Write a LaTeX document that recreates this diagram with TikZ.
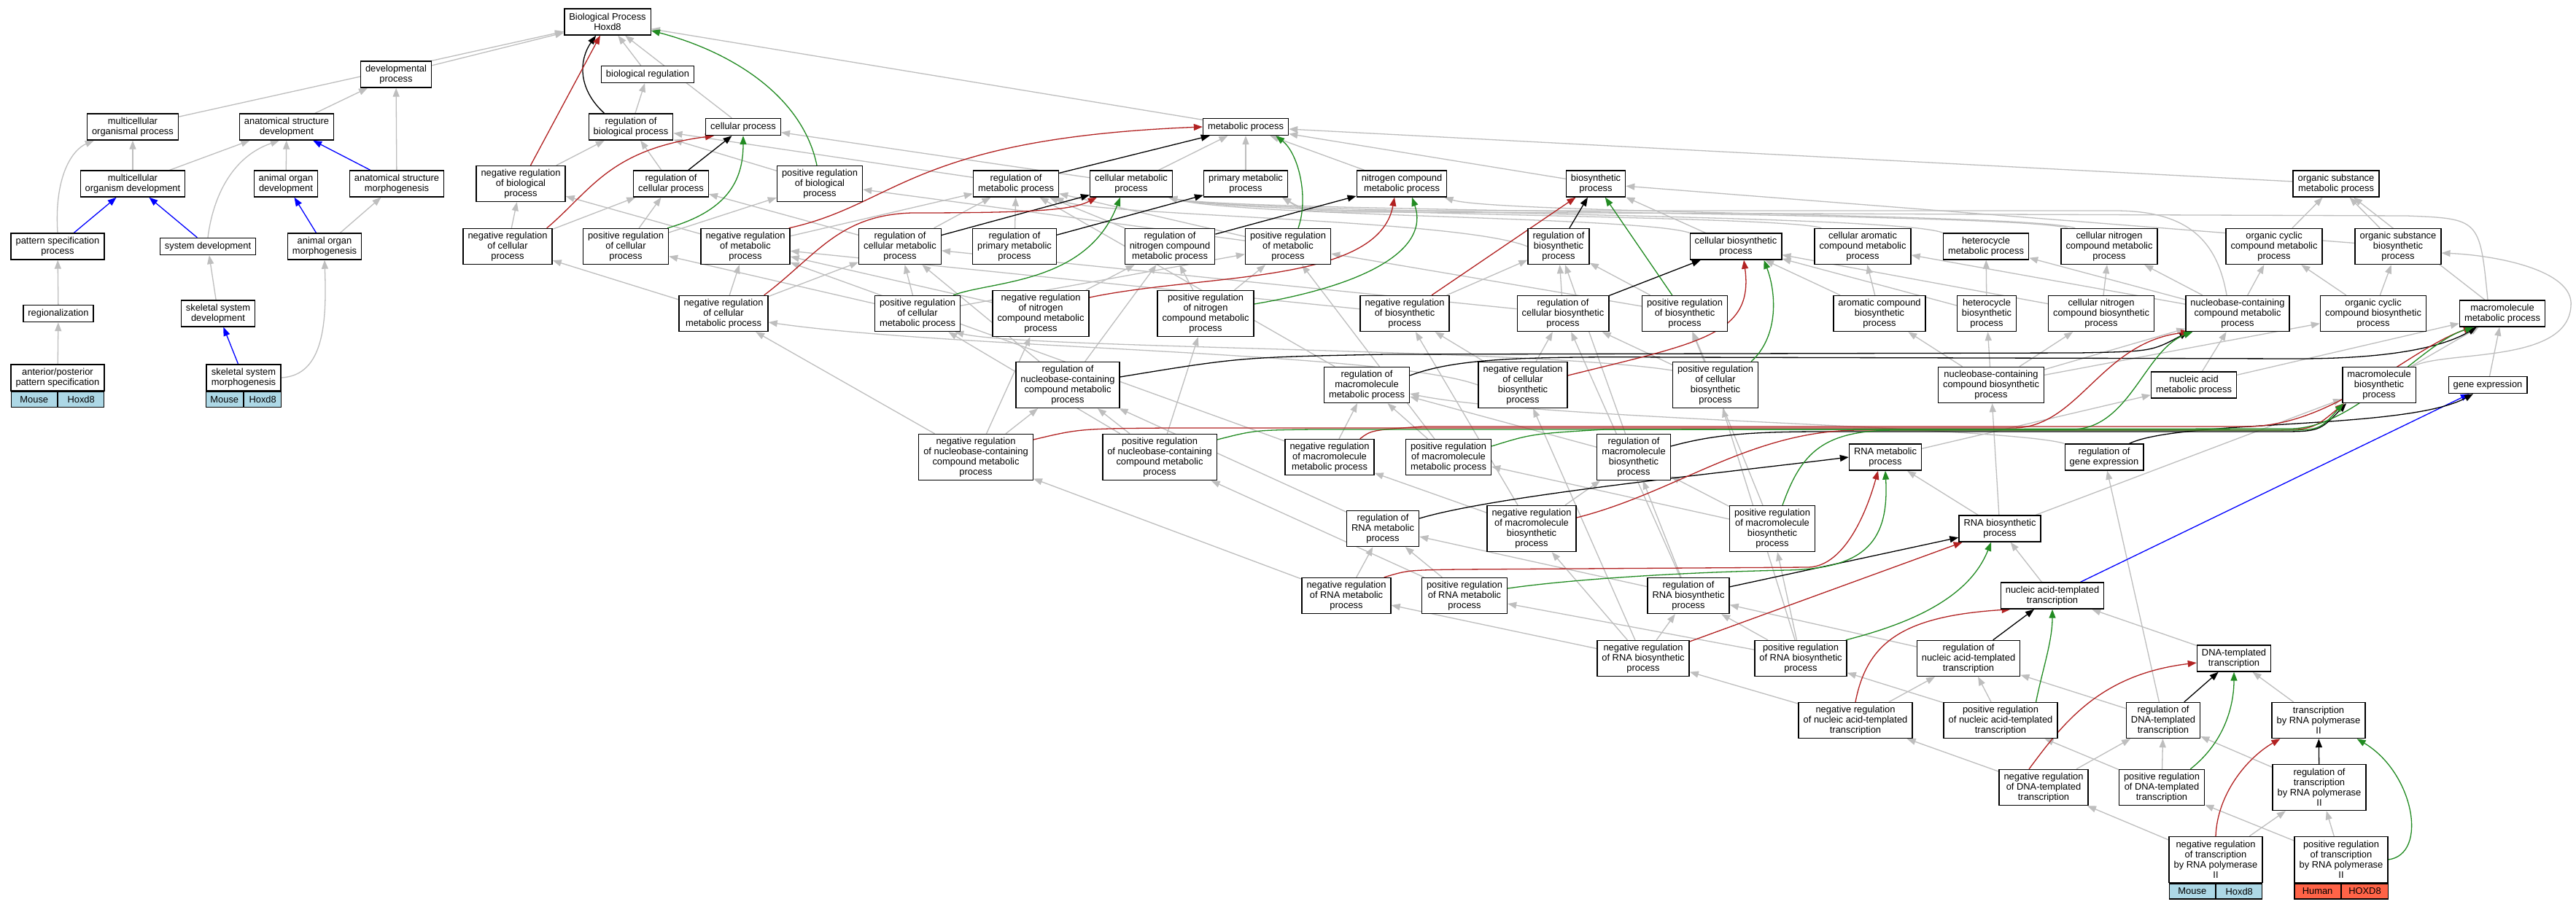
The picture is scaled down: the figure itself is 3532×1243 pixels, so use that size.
\documentclass[tikz,border=0pt]{standalone}
\usepackage{fontspec}
\setmainfont{Liberation Sans}
\usetikzlibrary{arrows.meta,backgrounds}
\definecolor{isagray}{RGB}{190,190,190}
\definecolor{negred}{RGB}{178,34,34}
\definecolor{posgreen}{RGB}{34,139,34}
\definecolor{partblue}{RGB}{0,0,255}
\definecolor{mouseblue}{RGB}{173,216,230}
\definecolor{humanred}{RGB}{255,99,71}
\begin{document}
\begin{tikzpicture}[x=1pt,y=-1pt,
  every node/.style={font=\fontsize{12.9}{14}\selectfont},
  box/.style={draw=black, line width=1.4pt, fill=white, align=center, inner xsep=6.5pt, inner ysep=1pt},
  L1/.style={box, minimum height=23pt},
  L2/.style={box, minimum height=36pt},
  L3/.style={box, minimum height=49pt},
  L4/.style={box, minimum height=63pt},
  cell/.style={draw=black, line width=1.4pt, minimum height=21pt, inner sep=1pt},
  link/.style={line width=1.3pt, -{Triangle[length=12pt,width=9pt]}},
  isa/.style={link, draw=isagray},
  partof/.style={link, draw=partblue},
  regl/.style={link, draw=black},
  negl/.style={link, draw=negred},
  posl/.style={link, draw=posgreen}
]
% ---------------- nodes ----------------
\node[L2] (BP) at (833,30) {Biological Process\\Hoxd8};
\node[L2] (dev) at (543,102) {developmental\\process};
\node[L1] (breg) at (888,102) {biological regulation};
\node[L2] (mop) at (182,174) {multicellular\\organismal process};
\node[L2] (asd) at (393,174) {anatomical structure\\development};
\node[L2] (rbp) at (865,174) {regulation of\\biological process};
\node[L1] (cp) at (1019,174) {cellular process};
\node[L1] (mp) at (1708,174) {metabolic process};
\node[L2] (mod) at (182,252) {multicellular\\organism development};
\node[L2] (aod) at (392,252) {animal organ\\development};
\node[L2] (asm) at (544,252) {anatomical structure\\morphogenesis};
\node[L3] (nrbp) at (714,252) {negative regulation\\of biological\\process};
\node[L2] (rcp) at (920,252) {regulation of\\cellular process};
\node[L3] (prbp) at (1124,252) {positive regulation\\of biological\\process};
\node[L2] (rmp) at (1393,252) {regulation of\\metabolic process};
\node[L2] (cmp) at (1551,252) {cellular metabolic\\process};
\node[L2] (pmp) at (1708,252) {primary metabolic\\process};
\node[L2] (ncmp) at (1922,252) {nitrogen compound\\metabolic process};
\node[L2] (bsp) at (2188,252) {biosynthetic\\process};
\node[L2] (osmp) at (3203,252) {organic substance\\metabolic process};
\node[L2] (psp) at (79,338) {pattern specification\\process};
\node[L1] (sd) at (285,338) {system development};
\node[L2] (aom) at (445,338) {animal organ\\morphogenesis};
\node[L3] (nrcp) at (696,338) {negative regulation\\of cellular\\process};
\node[L3] (prcp) at (858,338) {positive regulation\\of cellular\\process};
\node[L3] (nrmp) at (1022,338) {negative regulation\\of metabolic\\process};
\node[L3] (rcmp) at (1234,338) {regulation of\\cellular metabolic\\process};
\node[L3] (rpmp) at (1391,338) {regulation of\\primary metabolic\\process};
\node[L3] (rncmp) at (1604,338) {regulation of\\nitrogen compound\\metabolic process};
\node[L3] (prmp) at (1766,338) {positive regulation\\of metabolic\\process};
\node[L3] (rbsp) at (2137,338) {regulation of\\biosynthetic\\process};
\node[L2] (cbsp) at (2380,338) {cellular biosynthetic\\process};
\node[L3] (cacmp) at (2554,338) {cellular aromatic\\compound metabolic\\process};
\node[L2] (hmp) at (2723,338) {heterocycle\\metabolic process};
\node[L3] (cncmp) at (2892,338) {cellular nitrogen\\compound metabolic\\process};
\node[L3] (occmp) at (3118,338) {organic cyclic\\compound metabolic\\process};
\node[L3] (osbp) at (3288,338) {organic substance\\biosynthetic\\process};
\node[L1] (reg) at (80,430) {regionalization};
\node[L2] (ssd) at (299,430) {skeletal system\\development};
\node[L3] (nrcmp) at (992,430) {negative regulation\\of cellular\\metabolic process};
\node[L3] (prcmp) at (1258,430) {positive regulation\\of cellular\\metabolic process};
\node[L4] (nrncmp) at (1427,430) {negative regulation\\of nitrogen\\compound metabolic\\process};
\node[L4] (prncmp) at (1653,430) {positive regulation\\of nitrogen\\compound metabolic\\process};
\node[L3] (nrbsp) at (1926,430) {negative regulation\\of biosynthetic\\process};
\node[L3] (rcbsp) at (2143,430) {regulation of\\cellular biosynthetic\\process};
\node[L3] (prbsp) at (2310,430) {positive regulation\\of biosynthetic\\process};
\node[L3] (acbp) at (2577,430) {aromatic compound\\biosynthetic\\process};
\node[L3] (hbp) at (2724,430) {heterocycle\\biosynthetic\\process};
\node[L3] (cncbp) at (2881,430) {cellular nitrogen\\compound biosynthetic\\process};
\node[L3] (nbcmp) at (3068,430) {nucleobase-containing\\compound metabolic\\process};
\node[L3] (occbp) at (3254,430) {organic cyclic\\compound biosynthetic\\process};
\node[L2] (mmp) at (3431,430) {macromolecule\\metabolic process};
% records
\node[L2, minimum width=126pt] (ap) at (79,518) {anterior/posterior\\pattern specification};
\node[cell, fill=mouseblue, minimum width=63pt, anchor=north east] (apM) at (ap.south) {Mouse};
\node[cell, fill=mouseblue, minimum width=63pt, anchor=north west] (apH) at (ap.south) {Hoxd8};
\node[L2, minimum width=102pt] (ssm) at (334,518) {skeletal system\\morphogenesis};
\node[cell, fill=mouseblue, minimum width=51pt, anchor=north east] (ssmM) at (ssm.south) {Mouse};
\node[cell, fill=mouseblue, minimum width=51pt, anchor=north west] (ssmH) at (ssm.south) {Hoxd8};
\node[L4] (rnbcmp) at (1464,528) {regulation of\\nucleobase-containing\\compound metabolic\\process};
\node[L3] (rmmp) at (1874,528) {regulation of\\macromolecule\\metabolic process};
\node[L4] (nrcbsp) at (2088,528) {negative regulation\\of cellular\\biosynthetic\\process};
\node[L4] (prcbsp) at (2352,528) {positive regulation\\of cellular\\biosynthetic\\process};
\node[L3] (nbcbp) at (2730,528) {nucleobase-containing\\compound biosynthetic\\process};
\node[L2] (namp) at (3008,528) {nucleic acid\\metabolic process};
\node[L3] (mbp) at (3262,528) {macromolecule\\biosynthetic\\process};
\node[L1] (ge) at (3411,528) {gene expression};
\node[L4] (nrnbc) at (1338,627) {negative regulation\\of nucleobase-containing\\compound metabolic\\process};
\node[L4] (prnbc) at (1590,627) {positive regulation\\of nucleobase-containing\\compound metabolic\\process};
\node[L3] (nrmmp) at (1823,627) {negative regulation\\of macromolecule\\metabolic process};
\node[L3] (prmmp) at (1986,627) {positive regulation\\of macromolecule\\metabolic process};
\node[L4] (rmbp) at (2240,627) {regulation of\\macromolecule\\biosynthetic\\process};
\node[L2] (rnamp) at (2585,627) {RNA metabolic\\process};
\node[L2] (rge) at (2885,627) {regulation of\\gene expression};
\node[L3] (rrnamp) at (1896,725) {regulation of\\RNA metabolic\\process};
\node[L4] (nrmbp) at (2100,725) {negative regulation\\of macromolecule\\biosynthetic\\process};
\node[L4] (prmbp) at (2430,725) {positive regulation\\of macromolecule\\biosynthetic\\process};
\node[L2] (rnabp) at (2742,725) {RNA biosynthetic\\process};
\node[L3] (nrrnamp) at (1846,817) {negative regulation\\of RNA metabolic\\process};
\node[L3] (prrnamp) at (2008,817) {positive regulation\\of RNA metabolic\\process};
\node[L3] (rrnabp) at (2315,817) {regulation of\\RNA biosynthetic\\process};
\node[L2] (natt) at (2814,817) {nucleic acid-templated\\transcription};
\node[L3] (nrrnabp) at (2253,903) {negative regulation\\of RNA biosynthetic\\process};
\node[L3] (prrnabp) at (2469,903) {positive regulation\\of RNA biosynthetic\\process};
\node[L3] (rnatt) at (2699,903) {regulation of\\nucleic acid-templated\\transcription};
\node[L2] (dtt) at (3063,903) {DNA-templated\\transcription};
\node[L3] (nrnatt) at (2544,988) {negative regulation\\of nucleic acid-templated\\transcription};
\node[L3] (prnatt) at (2743,988) {positive regulation\\of nucleic acid-templated\\transcription};
\node[L3] (rdtt) at (2966,988) {regulation of\\DNA-templated\\transcription};
\node[L3] (trp2) at (3179,988) {transcription\\by RNA polymerase\\II};
\node[L3] (nrdtt) at (2802,1080) {negative regulation\\of DNA-templated\\transcription};
\node[L3] (prdtt) at (2964,1080) {positive regulation\\of DNA-templated\\transcription};
\node[L4] (rtrp2) at (3180,1080) {regulation of\\transcription\\by RNA polymerase\\II};
\node[L4, minimum width=126pt] (nrtrp2) at (3038,1179) {negative regulation\\of transcription\\by RNA polymerase\\II};
\node[cell, fill=mouseblue, minimum width=63pt, anchor=north east] (nrtrp2M) at (nrtrp2.south) {Mouse};
\node[cell, fill=mouseblue, minimum width=63pt, anchor=north west] (nrtrp2H) at (nrtrp2.south) {Hoxd8};
\node[L4, minimum width=127pt] (prtrp2) at (3210,1179) {positive regulation\\of transcription\\by RNA polymerase\\II};
\node[cell, fill=humanred, minimum width=63.5pt, anchor=north east] (prtrp2M) at (prtrp2.south) {Human};
\node[cell, fill=humanred, minimum width=63.5pt, anchor=north west] (prtrp2H) at (prtrp2.south) {HOXD8};
% ---------------- edges ----------------
\begin{pgfonlayer}{background}
\fill[white] (0,0) rectangle (3532,1243);
\foreach \a/\b in {dev/BP, mop/BP, breg/BP, cp/BP, mp/BP,
  asd/dev, asm/dev, mod/mop, mod/asd, aod/asd, aom/asm,
  reg/psp, ssd/sd, ap/reg,
  rbp/breg, nrbp/rbp, rcp/rbp, prbp/rbp, rmp/rbp,
  cmp/cp, cmp/mp, pmp/mp, ncmp/mp, bsp/mp, osmp/mp,
  nrcp/nrbp, nrcp/rcp, prcp/prbp, prcp/rcp, nrmp/nrbp, nrmp/rmp, rcmp/rcp, rcmp/rmp,
  rpmp/rmp, rncmp/rmp, prmp/prbp, prmp/rmp,
  cbsp/bsp, occmp/osmp, osbp/osmp, osbp/bsp, mmp/osmp,
  nrcmp/nrcp, nrcmp/nrmp, nrcmp/rcmp, prcmp/prcp, prcmp/prmp, prcmp/rcmp,
  nrncmp/nrmp, nrncmp/rncmp, prncmp/prmp, prncmp/rncmp, nrbsp/nrmp, nrbsp/rbsp,
  rcbsp/rcmp, rcbsp/rbsp, prbsp/prmp, prbsp/rbsp,
  acbp/cacmp, acbp/cbsp, hbp/hmp, hbp/cbsp, cncbp/cncmp, cncbp/cbsp,
  nbcmp/cacmp, nbcmp/hmp, nbcmp/cncmp, nbcmp/occmp, occbp/occmp, occbp/osbp,
  rnbcmp/rcmp, rnbcmp/rncmp, rmmp/rmp,
  nrcbsp/nrbsp, nrcbsp/rcbsp, prcbsp/prbsp, prcbsp/rcbsp,
  nbcbp/acbp, nbcbp/hbp, nbcbp/cncbp, nbcbp/nbcmp, nbcbp/occbp, namp/nbcmp, namp/mmp,
  mbp/mmp, ge/mmp,
  nrnbc/nrcmp, nrnbc/rnbcmp, nrnbc/nrncmp, prnbc/prcmp, prnbc/rnbcmp, prnbc/prncmp,
  nrmmp/nrmp, nrmmp/rmmp, prmmp/prmp, prmmp/rmmp, rmbp/rmmp, rmbp/rbsp, rnamp/namp,
  rrnamp/rnbcmp, nrmbp/nrmmp, nrmbp/nrbsp, nrmbp/rmbp, prmbp/prmmp, prmbp/prbsp, prmbp/rmbp,
  rnabp/rnamp, rnabp/nbcbp, rnabp/mbp,
  nrrnamp/nrnbc, nrrnamp/rrnamp, prrnamp/prnbc, prrnamp/rrnamp, rrnabp/rrnamp, rrnabp/rmbp,
  rrnabp/rcbsp, natt/rnabp,
  nrrnabp/nrrnamp, nrrnabp/rrnabp, nrrnabp/nrmbp, nrrnabp/nrcbsp,
  prrnabp/prrnamp, prrnabp/rrnabp, prrnabp/prmbp, prrnabp/prcbsp,
  rnatt/rrnabp, dtt/natt, nrnatt/nrrnabp, nrnatt/rnatt, prnatt/prrnabp, prnatt/rnatt,
  rdtt/rnatt, rdtt/rge, trp2/dtt,
  nrdtt/nrnatt, nrdtt/rdtt, prdtt/prnatt, prdtt/rdtt, rtrp2/rdtt,
  nrtrp2/nrdtt, nrtrp2/rtrp2, prtrp2/prdtt, prtrp2/rtrp2}
  \draw[isa] (\a) -- (\b);
\draw[isa] (psp.north) .. controls (74,240) and (100,205) .. ([xshift=10pt]mop.south west);
\draw[isa] (sd.north) .. controls (292,270) and (318,215) .. ([xshift=-10pt]asd.south);
\draw[isa] (ssm.east) .. controls (445,515) and (448,440) .. (aom.south);
% long is_a links routed through the gaps between rows
\draw[isa] (cbsp.north west) .. controls (2250,297) and (1700,297) .. ([xshift=-6pt]cmp.south east);
\draw[isa] ([xshift=10pt]cacmp.north west) .. controls (2450,295) and (1700,295) .. ([xshift=-6pt]cmp.south east);
\draw[isa] (hmp.north west) .. controls (2600,293) and (1700,293) .. ([xshift=-6pt]cmp.south east);
\draw[isa] ([xshift=10pt]cncmp.north west) .. controls (2760,291) and (1700,291) .. ([xshift=-6pt]cmp.south east);
\draw[isa] ([xshift=20pt]cncmp.north west) .. controls (2780,293) and (2050,293) .. ([xshift=-4pt]ncmp.south east);
\draw[isa] ([xshift=-15pt]nbcmp.north) .. controls (3040,330) and (3000,289) .. (2900,289) -- (1900,289) .. controls (1790,289) .. ([xshift=-8pt]pmp.south east);
\draw[isa] ([xshift=-20pt]mmp.north) .. controls (3400,300) .. (3300,296) -- (1900,291) .. controls (1790,291) .. ([xshift=-8pt]pmp.south east);
\draw[isa] (rbsp.west) .. controls (2000,300) and (1500,296) .. ([xshift=-6pt]rmp.south east);
\draw[isa] ([xshift=-5pt]mbp.north east) .. controls (3350,480) and (3520,500) .. (3525,420) .. controls (3530,370) and (3420,350) .. ([yshift=-9pt]osbp.east);
\draw[isa] (rge.north west) .. controls (2750,585) and (2100,575) .. ([yshift=-12pt]rmmp.east);
\draw[isa] (nrcbsp.west) .. controls (1900,482) and (1300,478) .. ([yshift=-12pt]nrcmp.east);
\draw[isa] ([yshift=20pt]prcbsp.west) .. controls (2100,478) and (1400,478) .. ([xshift=-8pt]prcmp.south east);
% part_of
\foreach \a/\b in {asm/asd, psp/mod, sd/mod, aom/aod, ssm/ssd, natt/ge}
  \draw[partof] (\a) -- (\b);
% regulates
\foreach \a/\b in {rcp/cp, rmp/mp, rcmp/cmp, rpmp/pmp, rncmp/ncmp, rbsp/bsp, rcbsp/cbsp,
  rrnabp/rnabp, rnatt/natt, rdtt/dtt, rtrp2/trp2}
  \draw[regl] (\a) -- (\b);
\draw[regl] ([xshift=22pt]rbp.north west) .. controls (790,120) and (795,80) .. ([xshift=44pt]BP.south west);
\draw[regl] ([yshift=11pt]rnbcmp.east) .. controls (1700,490) .. (1900,486) -- (2850,484) .. controls (2950,482) .. ([xshift=4pt]nbcmp.south west);
\draw[regl] ([yshift=13pt]rmmp.east) .. controls (2000,490) and (2100,489) .. (2300,490) -- (3150,492) .. controls (3300,492) and (3360,470) .. ([xshift=24pt]mmp.south west);
\draw[regl] ([yshift=15pt]rmbp.east) .. controls (2350,596) and (2400,592) .. (2500,592) -- (3120,592) .. controls (3180,592) .. ([xshift=6pt]mbp.south west);
\draw[regl] ([xshift=-20pt]rge.north east) .. controls (2990,575) and (3300,590) .. ([xshift=-20pt]ge.south);
\draw[regl] ([yshift=14pt]rrnamp.east) .. controls (2050,680) and (2350,650) .. (rnamp.west);
% negatively regulates
\foreach \a/\b in {nrbp/BP, nrbsp/bsp, nrrnabp/rnabp}
  \draw[negl] (\a) -- (\b);
\draw[negl] ([xshift=-8pt]nrcp.north east) .. controls (810,262) and (835,205) .. ([xshift=12pt]cp.south west);
\draw[negl] ([xshift=-2pt]nrmp.north east) .. controls (1230,280) and (1250,190) .. (mp.west);
\draw[negl] ([xshift=-6pt]nrcmp.north east) .. controls (1120,350) and (1150,295) .. (1250,292) .. controls (1420,292) and (1470,288) .. ([xshift=10pt]cmp.south west);
\draw[negl] ([yshift=22pt]nrncmp.east) .. controls (1650,375) and (1890,390) .. ([xshift=-10pt]ncmp.south);
\draw[negl] ([yshift=13pt]nrcbsp.east) .. controls (2330,470) and (2405,460) .. ([xshift=11pt]cbsp.south);
\draw[negl] ([yshift=24pt]nrnbc.east) .. controls (1480,588) .. (1600,587) -- (2760,587) .. controls (2850,587) and (2880,470) .. ([xshift=6pt]nbcmp.south west);
\draw[negl] ([xshift=-20pt]nrmmp.north east) .. controls (1880,590) .. (1950,585) -- (3080,585) .. controls (3200,585) and (3300,480) .. ([xshift=18pt]mmp.south west);
\draw[negl] ([yshift=15pt]nrmbp.east) .. controls (2300,675) and (2400,590) .. (2550,590) -- (3100,590) .. controls (3170,590) .. ([xshift=3pt]mbp.south west);
\draw[negl] ([xshift=-10pt]nrrnamp.north east) .. controls (1930,782) .. (2000,781) -- (2480,778) .. controls (2530,776) and (2560,700) .. ([xshift=-10pt]rnamp.south);
\draw[negl] (nrnatt.north) .. controls (2560,880) and (2610,845) .. ([xshift=14pt]natt.south west);
\draw[negl] ([xshift=-20pt]nrdtt.north) .. controls (2830,990) and (2880,925) .. ([yshift=-6pt]dtt.west);
\draw[negl] (nrtrp2.north) .. controls (3040,1090) and (3080,1040) .. ([xshift=12pt]trp2.south west);
% positively regulates
\draw[posl] (prbsp) -- (bsp);
\draw[posl] ([xshift=-4pt]prbp.north) .. controls (1100,130) and (1000,70) .. ([yshift=-12pt]BP.east);
\draw[posl] ([xshift=-2pt]prcp.north east) .. controls (995,290) and (1019,250) .. (cp.south);
\draw[posl] ([xshift=14pt]prmp.north) .. controls (1795,270) and (1780,210) .. ([xshift=-18pt]mp.south east);
\draw[posl] ([xshift=-10pt]prcmp.north east) .. controls (1360,385) and (1490,390) .. ([xshift=-15pt]cmp.south);
\draw[posl] ([yshift=13pt]prncmp.east) .. controls (1880,390) and (1960,340) .. ([xshift=14pt]ncmp.south);
\draw[posl] ([xshift=-10pt]prcbsp.north east) .. controls (2440,460) and (2435,400) .. ([xshift=-25pt]cbsp.south east);
\draw[posl] ([yshift=24pt]prnbc.east) .. controls (1720,590) .. (1800,589) -- (2840,589) .. controls (2920,589) and (2940,480) .. ([xshift=10pt]nbcmp.south west);
\draw[posl] ([yshift=15pt]prmmp.east) .. controls (2100,595) .. (2200,589) -- (3140,588) .. controls (3230,588) and (3320,470) .. ([xshift=20pt]mmp.south west);
\draw[posl] ([xshift=14pt]prmbp.north) .. controls (2470,620) and (2500,590) .. (2600,590) -- (3130,590) .. controls (3180,590) .. ([xshift=2pt]mbp.south west);
\draw[posl] ([yshift=10pt]prrnamp.east) .. controls (2150,795) and (2300,785) .. (2450,782) .. controls (2560,780) and (2590,740) .. (rnamp.south);
\draw[posl] ([xshift=-2pt]prrnabp.north east) .. controls (2620,855) and (2700,820) .. ([xshift=-12pt]rnabp.south);
\draw[posl] ([xshift=-30pt]prnatt.north east) .. controls (2800,920) and (2814,880) .. (natt.south);
\draw[posl] ([xshift=-20pt]prdtt.north east) .. controls (3060,1010) and (3063,950) .. (dtt.south);
\draw[posl] (prtrp2.east) .. controls (3330,1172) and (3310,1060) .. ([xshift=-12pt]trp2.south east);
\end{pgfonlayer}
\end{tikzpicture}
\end{document}
